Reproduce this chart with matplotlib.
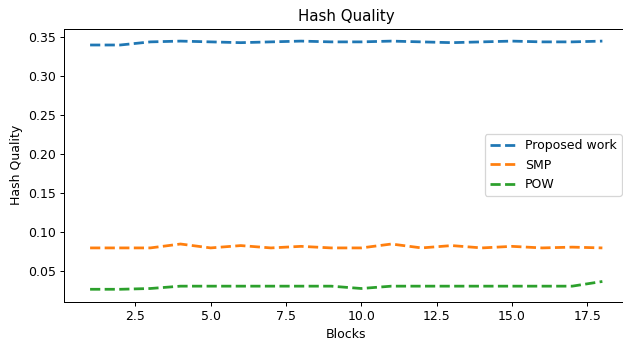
import matplotlib
matplotlib.use("Agg")
import matplotlib.pyplot as plt

blocks = list(range(1, 19))
proposed = [0.340, 0.340, 0.344, 0.345, 0.344, 0.343, 0.344, 0.345, 0.344,
            0.344, 0.345, 0.344, 0.343, 0.344, 0.345, 0.344, 0.344, 0.345]
smp = [0.080, 0.080, 0.080, 0.085, 0.080, 0.083, 0.080, 0.082, 0.080,
       0.080, 0.085, 0.080, 0.083, 0.080, 0.082, 0.080, 0.081, 0.080]
pow_ = [0.027, 0.027, 0.028, 0.031, 0.031, 0.031, 0.031, 0.031, 0.031,
        0.028, 0.031, 0.031, 0.031, 0.031, 0.031, 0.031, 0.031, 0.037]

# original image looks cropped on the right, so the axes run past the edge
fig = plt.figure(figsize=(623 / 90, 344 / 90), dpi=90)
ax = fig.add_axes([0.1035, 0.123, 0.9045, 0.7936])
ax.plot(blocks, proposed, '--', lw=2.2, label='Proposed work')
ax.plot(blocks, smp, '--', lw=2.2, label='SMP')
ax.plot(blocks, pow_, '--', lw=2.2, label='POW')
ax.set_title('Hash Quality')
ax.set_xlabel('Blocks')
ax.set_ylabel('Hash Quality')
ax.legend(loc='center right')
plt.savefig('out.png', dpi=90)
